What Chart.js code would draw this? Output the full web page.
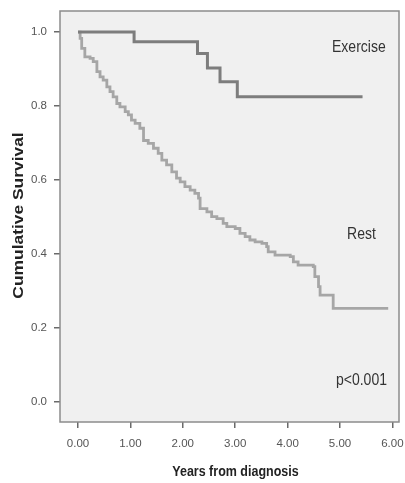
<!DOCTYPE html>
<html lang="en">
<head>
    <meta charset="UTF-8">
    <title>Cumulative Survival</title>
    <script src="https://cdn.jsdelivr.net/npm/chart.js"></script>
    <style>
        body { margin: 0; background: #ffffff; }
        canvas { display: block; }
    </style>
</head>
<body>
    <canvas id="survivalChart" width="405" height="483"></canvas>

    <script>
        // Kaplan-Meier curves (years, survival after each drop)
        const exerciseTimes = [0, 1.07, 2.28, 2.47, 2.71, 3.04, 5.43];
        const exerciseSurvival = [1.0, 0.974, 0.942, 0.903, 0.866, 0.825, 0.825];

        const restTimes = [0, 0.04, 0.07, 0.13, 0.23, 0.29, 0.36, 0.42, 0.48, 0.55, 0.61, 0.67, 0.74, 0.80,
            0.90, 0.96, 1.02, 1.09, 1.18, 1.25, 1.34, 1.44, 1.53, 1.60, 1.69, 1.79, 1.88, 1.95, 2.04, 2.14,
            2.23, 2.30, 2.33, 2.46, 2.55, 2.65, 2.77, 2.84, 3.00, 3.09, 3.19, 3.28, 3.38, 3.51, 3.60, 3.63,
            3.76, 4.05, 4.11, 4.20, 4.49, 4.52, 4.59, 4.62, 4.87, 5.92];
        const restSurvival = [1.0, 0.983, 0.956, 0.933, 0.929, 0.920, 0.893, 0.879, 0.870, 0.852, 0.839, 0.825, 0.807, 0.798,
            0.785, 0.776, 0.762, 0.753, 0.740, 0.707, 0.699, 0.686, 0.672, 0.654, 0.641, 0.622, 0.605, 0.595, 0.582, 0.573,
            0.564, 0.551, 0.523, 0.514, 0.501, 0.496, 0.483, 0.474, 0.469, 0.456, 0.447, 0.438, 0.433, 0.429, 0.420, 0.406,
            0.397, 0.393, 0.379, 0.370, 0.366, 0.339, 0.312, 0.289, 0.253, 0.253];

        const xTicks = [0, 1, 2, 3, 4, 5, 6];
        const yTicks = [0, 0.2, 0.4, 0.6, 0.8, 1.0];

        const groupNames = ['Exercise', 'Rest'];
        const pValueText = 'p<0.001';
        const xTitle = 'Years from diagnosis';
        const yTitle = 'Cumulative Survival';

        const toPoints = (xs, ys) => xs.map((x, i) => ({ x: x, y: ys[i] }));

        const tickFont = { family: "'Liberation Sans Narrow', 'Liberation Sans', Arial, sans-serif", size: 11.5 };

        // grey plot panel, frame, group labels and axis titles
        const panelPlugin = {
            id: 'panel',
            beforeDraw(chart) {
                const { ctx, chartArea: a } = chart;
                ctx.save();
                ctx.fillStyle = '#f0f0f0';
                ctx.fillRect(a.left, a.top, a.right - a.left, a.bottom - a.top);
                ctx.restore();
            },
            afterDraw(chart) {
                const { ctx, chartArea: a, scales } = chart;
                ctx.save();
                ctx.strokeStyle = '#8c8c8c';
                ctx.lineWidth = 1.5;
                ctx.strokeRect(a.left, a.top, a.right - a.left, a.bottom - a.top);

                const stretched = (text, x, y, font, color, rot) => {
                    ctx.save();
                    ctx.translate(x, y);
                    if (rot) { ctx.rotate(-Math.PI / 2); ctx.scale(1.2, 1); }
                    else { ctx.scale(1, 1.2); }
                    ctx.font = font;
                    ctx.fillStyle = color;
                    ctx.textAlign = 'center';
                    ctx.textBaseline = 'middle';
                    ctx.fillText(text, 0, 0);
                    ctx.restore();
                };

                const fx = scales.x, fy = scales.y;
                const body = "14px 'Liberation Sans', Arial, sans-serif";
                stretched(groupNames[0], fx.getPixelForValue(5.36), fy.getPixelForValue(0.959), body, '#333333');
                stretched(groupNames[1], fx.getPixelForValue(5.41), fy.getPixelForValue(0.454), body, '#333333');
                stretched(pValueText, fx.getPixelForValue(5.41), fy.getPixelForValue(0.059), body, '#333333');

                const bold = "bold 12.5px 'Liberation Sans', Arial, sans-serif";
                stretched(xTitle, 235.5, 472, bold, '#222222');
                stretched(yTitle, 18.5, (a.top + a.bottom) / 2 - 1, "bold 14.5px 'Liberation Sans', Arial, sans-serif", '#222222', true);
                ctx.restore();
            }
        };

        const ctx = document.getElementById('survivalChart').getContext('2d');

        const survivalChart = new Chart(ctx, {
            type: 'line',
            data: {
                datasets: [
                    {
                        label: groupNames[0],
                        data: toPoints(exerciseTimes, exerciseSurvival),
                        borderColor: '#7d7d7d',
                        borderWidth: 3,
                        stepped: true,
                        pointRadius: 0,
                        fill: false
                    },
                    {
                        label: groupNames[1],
                        data: toPoints(restTimes, restSurvival),
                        borderColor: '#a6a6a6',
                        borderWidth: 2.8,
                        stepped: true,
                        pointRadius: 0,
                        fill: false
                    }
                ]
            },
            options: {
                responsive: false,
                animation: false,
                devicePixelRatio: 1,
                layout: { padding: { left: 0, top: 11, right: 6, bottom: 0 } },
                plugins: {
                    legend: { display: false },
                    tooltip: { enabled: false }
                },
                scales: {
                    x: {
                        type: 'linear',
                        min: -0.344,
                        max: 6.126,
                        afterBuildTicks: s => { s.ticks = xTicks.map(v => ({ value: v })); },
                        afterFit: s => { s.height = 61; s.paddingLeft = 0; s.paddingRight = 0; },
                        border: { display: false },
                        grid: { drawOnChartArea: false, drawTicks: true, tickLength: 6, color: '#6a6a6a', lineWidth: 1.5 },
                        ticks: {
                            autoSkip: false,
                            maxRotation: 0,
                            padding: 9,
                            color: '#555555',
                            font: tickFont,
                            callback: v => Number(v).toFixed(2)
                        }
                    },
                    y: {
                        min: -0.054,
                        max: 1.057,
                        afterBuildTicks: s => { s.ticks = yTicks.map(v => ({ value: v })); },
                        afterFit: s => { s.width = 60; s.paddingTop = 0; s.paddingBottom = 0; },
                        border: { display: false },
                        grid: { drawOnChartArea: false, drawTicks: true, tickLength: 6, color: '#6a6a6a', lineWidth: 1.5 },
                        ticks: {
                            padding: 7,
                            color: '#555555',
                            font: tickFont,
                            callback: v => Number(v).toFixed(1)
                        }
                    }
                }
            },
            plugins: [panelPlugin]
        });
    </script>
</body>
</html>
